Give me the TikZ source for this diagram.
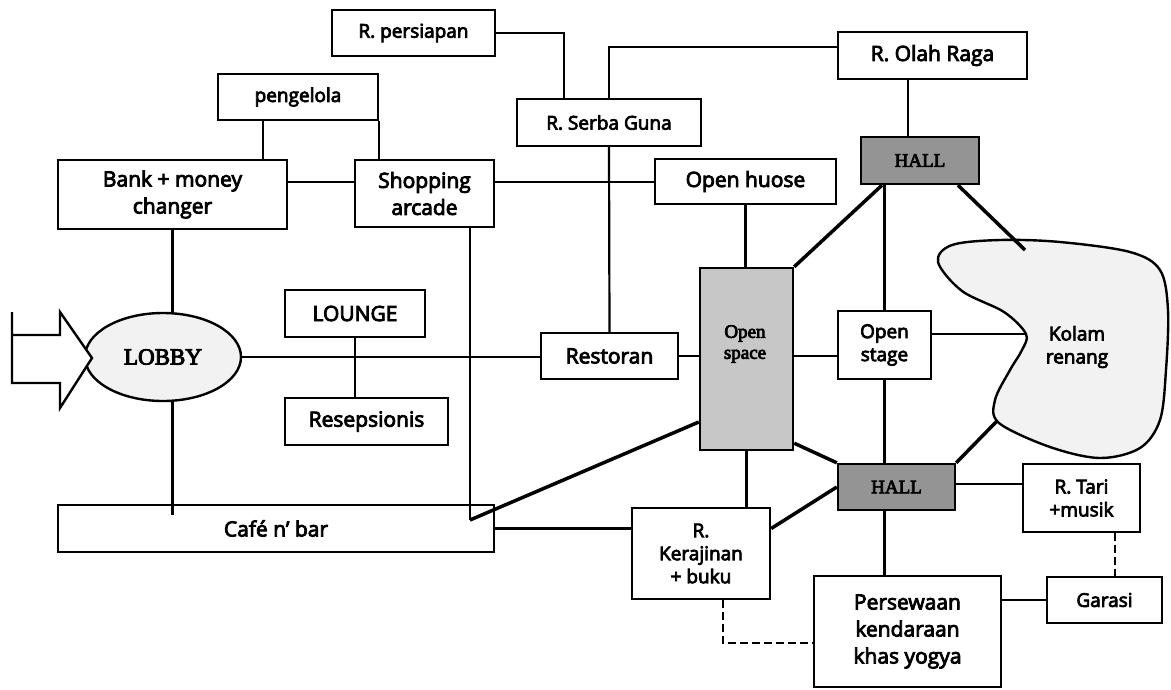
\documentclass[tikz,border=0pt]{standalone}
\usepackage{fontspec}
\setmainfont{Open Sans}[FakeBold=4]
\newfontfamily\labelserif{Liberation Serif}[FakeBold=4]
\usetikzlibrary{shapes.geometric}

\begin{document}
\begin{tikzpicture}[x=1pt,y=-1pt,
        room/.style={draw,line width=2.4pt,fill=white,align=center,inner sep=0pt,
            font=\fontsize{21}{27}\selectfont},
        smallroom/.style={room,font=\fontsize{19}{23}\selectfont},
        hall/.style={room,fill=black!42,font=\labelserif\fontsize{19}{22}\selectfont},
        link/.style={line width=2.2pt},
        thick link/.style={line width=3.5pt},
        dashed link/.style={line width=2.8pt,dash pattern=on 8pt off 4pt}]

    \useasboundingbox (0,0) rectangle (1171,689);

    % rooms
    \node[smallroom,minimum width=163pt,minimum height=46pt] (persiapan) at (413.5,33) {R. persiapan};
    \node[smallroom,minimum width=160pt,minimum height=46pt] (pengelola) at (298,97) {pengelola};
    \node[room,minimum width=229pt,minimum height=69pt] (bank) at (172.5,194.5) {Bank + money\\changer};
    \node[room,minimum width=139pt,minimum height=67pt] (shopping) at (424.5,193.5) {Shopping\\arcade};
    \node[smallroom,minimum width=184pt,minimum height=47pt] (serbaguna) at (609,122.5) {R. Serba Guna};
    \node[room,minimum width=181pt,minimum height=45pt] (openhouse) at (745.5,181.5) {Open huose};
    \node[room,minimum width=189pt,minimum height=47pt] (olahraga) at (932.5,55.5) {R. Olah Raga};
    \node[hall,minimum width=118pt,minimum height=47pt] (halltop) at (920,160.5) {HALL};

    \node[draw,ellipse,line width=2.4pt,fill=black!5,minimum width=156pt,minimum height=88pt,
        font=\labelserif\fontsize{23}{26}\selectfont] (lobby) at (163,357) {LOBBY};
    \draw[line width=2.4pt,fill=white,line join=miter]
        (12,312) -- (12,383) -- (60,383) -- (60,408) -- (92,358) -- (60,312) -- (60,335) -- (12,335);

    \node[room,minimum width=140pt,minimum height=47pt] (lounge) at (355,313.5) {LOUNGE};
    \node[room,minimum width=163pt,minimum height=47pt] (resepsionis) at (366.5,421.5) {Resepsionis};
    \node[room,minimum width=137pt,minimum height=46pt] (restoran) at (609.5,356) {Restoran};
    \node[room,fill=black!22,minimum width=93pt,minimum height=182pt] (openspace) at (746.5,359) {};
    \node[font=\labelserif\fontsize{19}{21}\selectfont,align=center] (openspacetext) at (745,344) {Open\\space};
    \node[smallroom,minimum width=93pt,minimum height=68pt] (openstage) at (884.5,345) {Open\\stage};

    % pool
    \draw[line width=2.4pt,fill=black!5] plot[smooth cycle,tension=0.55] coordinates {
        (1026,334) (1004,312) (962,291) (938,262) (952,245) (1000,240) (1060,242) (1130,252)
        (1160,270) (1168,310) (1166,370) (1160,420) (1140,448) (1100,458) (1050,447)
        (999,423) (995,400) (1010,370) (1022,350)};
    \node[font=\fontsize{19}{23}\selectfont,align=center] (kolam) at (1077,347) {Kolam\\renang};
    \coordinate (kolamtop) at (1025,250);
    \coordinate (kolamleft) at (1026,334);
    \coordinate (kolambottom) at (997,421);

    \node[hall,minimum width=117pt,minimum height=46pt] (hallbot) at (896.5,487) {HALL};
    \node[smallroom,minimum width=117pt,minimum height=68pt] (tari) at (1081.5,498) {R. Tari\\+musik};
    \node[room,minimum width=436pt,minimum height=47pt] (cafe) at (276,528.5) {Café n' bar};
    \node[smallroom,minimum width=138pt,minimum height=91pt] (kerajinan) at (701,553.5) {R.\\Kerajinan\\+ buku};
    \node[room,minimum width=187pt,minimum height=111pt] (persewaan) at (907.5,631.5) {Persewaan\\kendaraan\\khas yogya};
    \node[smallroom,minimum width=115pt,minimum height=46pt] (garasi) at (1104.5,600) {Garasi};
    \coordinate (cafeknot) at (470,520);

    % links
    \draw[link] (263,0 |- pengelola.south) -- (263,0 |- bank.north);
    \draw[link] (pengelola.south east) -- (pengelola.south east |- shopping.north);
    \draw[link] (bank.east |- 0,182) -- (shopping.west |- 0,182);
    \draw[link] (shopping.east |- 0,182) -- (openhouse.west |- 0,182);
    \draw[link] (persiapan.east) -| (564,0 |- serbaguna.north);
    \draw[link] (serbaguna.north) |- (olahraga.west |- 0,47);
    \draw[link] (serbaguna.south) -- (restoran.north);
    \draw[link] (bank.south) -- (bank.south |- lobby.north);
    \draw[link] (bank.south |- lobby.south) -- (bank.south |- 0,515);
    \draw[link] (lobby.east) -- (lobby.east -| restoran.west);
    \draw[link] (lounge.south) -- (lounge.south |- resepsionis.north);
    \draw[link] (restoran.east) -- (restoran.east -| openspace.west);
    \draw[link] (openhouse.south) -- (openhouse.south |- openspace.north);
    \draw[link] (openspace.east |- restoran.east) -- (openstage.west |- restoran.east);
    \draw[link] (908,0 |- olahraga.south) -- (908,0 |- halltop.north);
    \draw[link] (openstage.north |- halltop.south) -- (openstage.north);
    \draw[thick link] (882,0 |- halltop.south) -- (openspace.north east);
    \draw[thick link] (958,0 |- halltop.south) -- (kolamtop);
    \draw[link] (openstage.east |- kolamleft) -- (kolamleft);
    \draw[link] (openstage.south) -- (openstage.south |- hallbot.north);
    \draw[thick link] ([yshift=8pt]openspace.south east) -- (hallbot.north west);
    \draw[thick link] (kolambottom) -- (hallbot.north east);
    \draw[link] (hallbot.east |- 0,484) -- (tari.west |- 0,484);
    \draw[link] (openstage.south |- hallbot.south) -- (openstage.south |- persewaan.north);
    \draw[thick link] (hallbot.west) -- (kerajinan.east |- cafe.east);
    \draw[link] (openspace.south) -- (openspace.south |- kerajinan.north);
    \draw[link] (cafe.east) -- (cafe.east -| kerajinan.west);
    \draw[link] (470,0 |- shopping.south) -- (cafeknot);
    \draw[thick link] (cafeknot) -- (openspace.west |- 0,422);
    \draw[dashed link] (723,0 |- kerajinan.south) |- (persewaan.west |- 0,643);
    \draw[dashed link] (1115,0 |- tari.south) -- (1115,0 |- garasi.north);
    \draw[link] (garasi.west -| persewaan.east) -- (garasi.west);

\end{tikzpicture}
\end{document}
